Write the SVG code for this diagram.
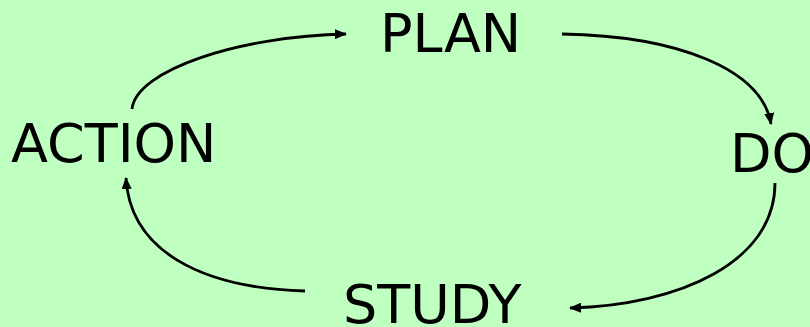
<svg xmlns="http://www.w3.org/2000/svg" width="810" height="327" viewBox="0 0 810 327">
  <style>
    .label { font-family: "DejaVu Sans", Verdana, sans-serif; font-size: 54px; fill: #000; }
    .flow { fill: none; stroke: #000; stroke-width: 2.8; marker-end: url(#tip); }
  </style>
  <defs>
    <marker id="tip" markerUnits="userSpaceOnUse" viewBox="0 0 12 10" refX="11" refY="5" markerWidth="12" markerHeight="10" orient="auto">
      <path d="M0,0 L12,5 L0,10 Z" fill="#000"/>
    </marker>
  </defs>
  <rect width="810" height="327" fill="#BFFFBF"/>

  <g id="connectors">
    <path class="flow" d="M132,109 C136,70 240,36 346,34"/>
    <path class="flow" d="M562,34 C680,36 762,70 771,124"/>
    <path class="flow" d="M775,183 C775,262 680,305 570,308"/>
    <path class="flow" d="M305,291 C200,288 130,250 126,178"/>
  </g>

  <g id="plan"><text class="label" x="380" y="52">PLAN</text></g>
  <g id="do"><text class="label" x="730" y="172">DO</text></g>
  <g id="study"><text class="label" x="343" y="323">STUDY</text></g>
  <g id="action"><text class="label" x="11" y="162">ACTION</text></g>
</svg>
